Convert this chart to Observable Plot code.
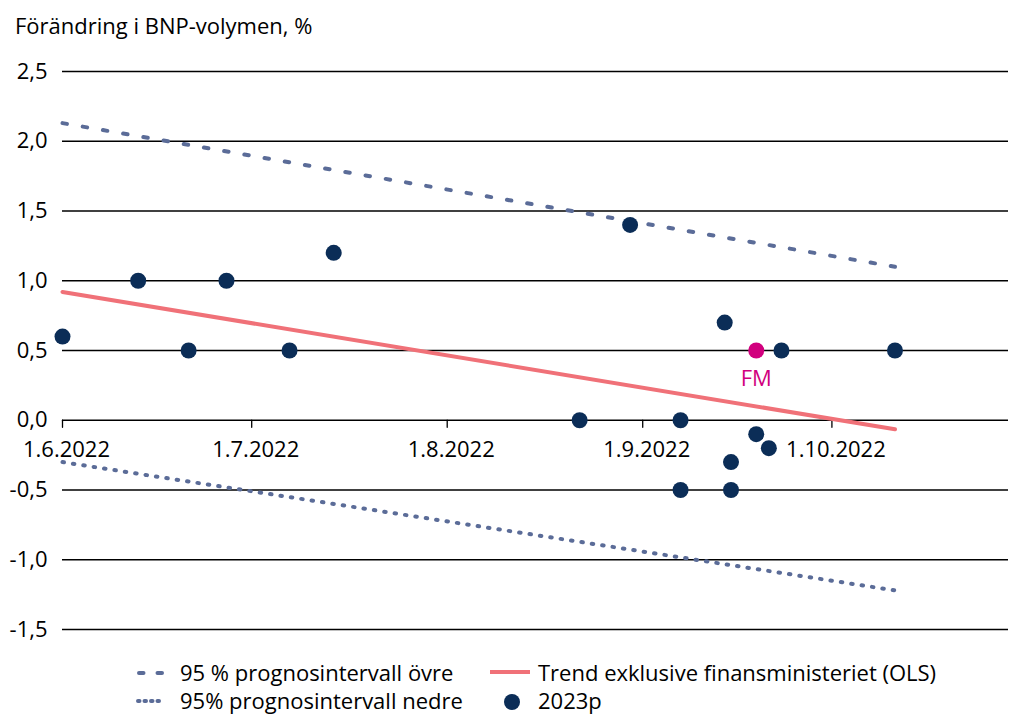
<!DOCTYPE html>
<html>
<head>
<meta charset="utf-8">
<script src="https://cdn.jsdelivr.net/npm/d3@7"></script>
<script src="https://cdn.jsdelivr.net/npm/@observablehq/plot@0.6"></script>
<style>
  body { margin: 0; background: #fff; font-family: "Open Sans", sans-serif; }
  #wrap { position: relative; width: 1012px; height: 714px; overflow: hidden; }
  #title { position: absolute; left: 15px; top: 11px; font-size: 22px; line-height: 28px; color: #000; white-space: nowrap; }
  #chart { position: absolute; left: 0; top: 50px; }
  .leg { position: absolute; font-size: 22px; line-height: 28px; color: #000; white-space: nowrap; }
  .sw { position: absolute; }
</style>
</head>
<body>
<div id="wrap">
  <div id="title">Förändring i BNP-volymen, %</div>
  <div id="chart"></div>
  <svg class="sw" style="left:130px;top:660px" width="40" height="54">
    <line x1="9" y1="13" x2="33" y2="13" stroke="#5b6c98" stroke-width="4" stroke-linecap="round" stroke-dasharray="4.5,14"/>
    <line x1="8" y1="41" x2="34" y2="41" stroke="#5b6c98" stroke-width="4" stroke-linecap="round" stroke-dasharray="1.5,5"/>
  </svg>
  <div class="leg" style="left:180px;top:658px">95 % prognosintervall övre</div>
  <div class="leg" style="left:180px;top:686px">95% prognosintervall nedre</div>
  <svg class="sw" style="left:486px;top:660px" width="50" height="54">
    <line x1="4" y1="12" x2="44" y2="12" stroke="#f07178" stroke-width="4"/>
    <circle cx="26" cy="42" r="8" fill="#0b2d57"/>
  </svg>
  <div class="leg" style="left:538px;top:658px">Trend exklusive finansministeriet (OLS)</div>
  <div class="leg" style="left:538px;top:686px">2023p</div>
</div>
<script>
// ---- data ----
const pointDates = ["2022-06-01","2022-06-13","2022-06-21","2022-06-27","2022-07-07","2022-07-14",
  "2022-08-22","2022-08-30","2022-09-07","2022-09-07","2022-09-14","2022-09-15","2022-09-15",
  "2022-09-19","2022-09-21","2022-09-23","2022-10-11"];
const pointValues = [0.6, 1.0, 0.5, 1.0, 0.5, 1.2,
  0.0, 1.4, 0.0, -0.5, 0.7, -0.3, -0.5,
  -0.1, -0.2, 0.5, 0.5];
const fmDate = "2022-09-19";
const fmValue = 0.5;
const fmLabel = "FM";

const lineDates = ["2022-06-01", "2022-10-11"];
const trendValues = [0.92, -0.065];
const upperValues = [2.13, 1.10];
const lowerValues = [-0.30, -1.22];

const xTickDates = ["2022-06-01","2022-07-01","2022-08-01","2022-09-01","2022-10-01"];
const xTickLabels = ["1.6.2022","1.7.2022","1.8.2022","1.9.2022","1.10.2022"];
const yTicks = [-1.5, -1.0, -0.5, 0.0, 0.5, 1.0, 1.5, 2.0, 2.5];

// ---- build ----
const pts = pointDates.map((d, i) => ({date: new Date(d), value: pointValues[i]}));
const fm = [{date: new Date(fmDate), value: fmValue, label: fmLabel}];
const mkLine = vals => lineDates.map((d, i) => ({date: new Date(d), value: vals[i]}));
const trend = mkLine(trendValues), upper = mkLine(upperValues), lower = mkLine(lowerValues);
const xt = xTickDates.map((d, i) => ({date: new Date(d), label: xTickLabels[i]}));
const fmt = v => v.toFixed(1).replace(".", ",");

const tickShape = { draw(ctx, l) { ctx.moveTo(0, 0); ctx.lineTo(0, -l); } };

const chart = Plot.plot({
  width: 1012,
  height: 600,
  marginTop: 21,
  marginBottom: 21,
  marginLeft: 62,
  marginRight: 4,
  style: {fontFamily: "Open Sans, sans-serif", fontSize: "22px", color: "#000", background: "transparent"},
  x: {type: "utc", domain: [new Date("2022-06-01"), new Date("2022-10-29")], axis: null},
  y: {domain: [-1.5, 2.5]},
  marks: [
    Plot.gridY(yTicks, {stroke: "#000", strokeOpacity: 1, strokeWidth: 1.3}),
    Plot.axisY(yTicks, {tickFormat: fmt, tickSize: 0, tickPadding: 15, fontSize: 22, label: null}),
    Plot.vector(xt, {x: "date", y: 0, length: 7, rotate: 180, anchor: "start", shape: tickShape, stroke: "#000", strokeWidth: 1.3}),
    Plot.text(xt, {x: "date", y: 0, text: "label", dy: 30, dx: 4, fontSize: 22, fill: "#000"}),
    Plot.line(upper, {x: "date", y: "value", stroke: "#5b6c98", strokeWidth: 4, strokeLinecap: "round", strokeDasharray: "4.5,16"}),
    Plot.line(lower, {x: "date", y: "value", stroke: "#5b6c98", strokeWidth: 4, strokeLinecap: "round", strokeDasharray: "1.5,9"}),
    Plot.line(trend, {x: "date", y: "value", stroke: "#f07178", strokeWidth: 4}),
    Plot.dot(pts, {x: "date", y: "value", r: 8, fill: "#0b2d57", stroke: "none"}),
    Plot.dot(fm, {x: "date", y: "value", r: 8, fill: "#d1007e", stroke: "none"}),
    Plot.text(fm, {x: "date", y: "value", text: "label", dy: 28, fontSize: 22, fill: "#d1007e"})
  ]
});
document.getElementById("chart").appendChild(chart);
</script>
</body>
</html>
